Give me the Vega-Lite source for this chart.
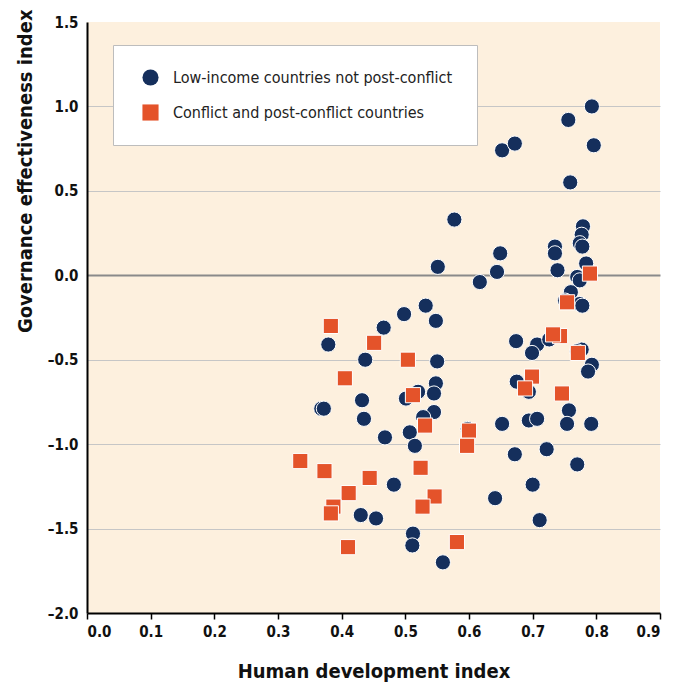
{
  "$schema": "https://vega.github.io/schema/vega-lite/v6.json",
  "width": 573,
  "height": 591,
  "autosize": "none",
  "padding": {"left": 87, "top": 22, "right": 15, "bottom": 77},
  "background": "white",
  "config": {
    "view": {"fill": "#fdf0de", "stroke": null},
    "font": "Liberation Sans Narrow, DejaVu Sans Condensed, sans-serif"
  },
  "datasets": {
    "pts": [
      {"hdi": 0.793, "ge": 1.00, "group": "Low-income countries not post-conflict"},
      {"hdi": 0.756, "ge": 0.92, "group": "Low-income countries not post-conflict"},
      {"hdi": 0.796, "ge": 0.77, "group": "Low-income countries not post-conflict"},
      {"hdi": 0.652, "ge": 0.74, "group": "Low-income countries not post-conflict"},
      {"hdi": 0.672, "ge": 0.78, "group": "Low-income countries not post-conflict"},
      {"hdi": 0.759, "ge": 0.55, "group": "Low-income countries not post-conflict"},
      {"hdi": 0.577, "ge": 0.33, "group": "Low-income countries not post-conflict"},
      {"hdi": 0.779, "ge": 0.29, "group": "Low-income countries not post-conflict"},
      {"hdi": 0.777, "ge": 0.24, "group": "Low-income countries not post-conflict"},
      {"hdi": 0.774, "ge": 0.19, "group": "Low-income countries not post-conflict"},
      {"hdi": 0.778, "ge": 0.17, "group": "Low-income countries not post-conflict"},
      {"hdi": 0.735, "ge": 0.17, "group": "Low-income countries not post-conflict"},
      {"hdi": 0.735, "ge": 0.13, "group": "Low-income countries not post-conflict"},
      {"hdi": 0.649, "ge": 0.13, "group": "Low-income countries not post-conflict"},
      {"hdi": 0.644, "ge": 0.02, "group": "Low-income countries not post-conflict"},
      {"hdi": 0.617, "ge": -0.04, "group": "Low-income countries not post-conflict"},
      {"hdi": 0.739, "ge": 0.03, "group": "Low-income countries not post-conflict"},
      {"hdi": 0.784, "ge": 0.07, "group": "Low-income countries not post-conflict"},
      {"hdi": 0.770, "ge": -0.01, "group": "Low-income countries not post-conflict"},
      {"hdi": 0.774, "ge": -0.03, "group": "Low-income countries not post-conflict"},
      {"hdi": 0.760, "ge": -0.10, "group": "Low-income countries not post-conflict"},
      {"hdi": 0.751, "ge": -0.15, "group": "Low-income countries not post-conflict"},
      {"hdi": 0.774, "ge": -0.17, "group": "Low-income countries not post-conflict"},
      {"hdi": 0.778, "ge": -0.18, "group": "Low-income countries not post-conflict"},
      {"hdi": 0.551, "ge": 0.05, "group": "Low-income countries not post-conflict"},
      {"hdi": 0.674, "ge": -0.39, "group": "Low-income countries not post-conflict"},
      {"hdi": 0.707, "ge": -0.41, "group": "Low-income countries not post-conflict"},
      {"hdi": 0.699, "ge": -0.46, "group": "Low-income countries not post-conflict"},
      {"hdi": 0.726, "ge": -0.38, "group": "Low-income countries not post-conflict"},
      {"hdi": 0.777, "ge": -0.44, "group": "Low-income countries not post-conflict"},
      {"hdi": 0.770, "ge": -0.45, "group": "Low-income countries not post-conflict"},
      {"hdi": 0.793, "ge": -0.53, "group": "Low-income countries not post-conflict"},
      {"hdi": 0.787, "ge": -0.57, "group": "Low-income countries not post-conflict"},
      {"hdi": 0.675, "ge": -0.63, "group": "Low-income countries not post-conflict"},
      {"hdi": 0.694, "ge": -0.69, "group": "Low-income countries not post-conflict"},
      {"hdi": 0.757, "ge": -0.80, "group": "Low-income countries not post-conflict"},
      {"hdi": 0.652, "ge": -0.88, "group": "Low-income countries not post-conflict"},
      {"hdi": 0.694, "ge": -0.86, "group": "Low-income countries not post-conflict"},
      {"hdi": 0.707, "ge": -0.85, "group": "Low-income countries not post-conflict"},
      {"hdi": 0.754, "ge": -0.88, "group": "Low-income countries not post-conflict"},
      {"hdi": 0.792, "ge": -0.88, "group": "Low-income countries not post-conflict"},
      {"hdi": 0.672, "ge": -1.06, "group": "Low-income countries not post-conflict"},
      {"hdi": 0.722, "ge": -1.03, "group": "Low-income countries not post-conflict"},
      {"hdi": 0.770, "ge": -1.12, "group": "Low-income countries not post-conflict"},
      {"hdi": 0.700, "ge": -1.24, "group": "Low-income countries not post-conflict"},
      {"hdi": 0.641, "ge": -1.32, "group": "Low-income countries not post-conflict"},
      {"hdi": 0.711, "ge": -1.45, "group": "Low-income countries not post-conflict"},
      {"hdi": 0.532, "ge": -0.18, "group": "Low-income countries not post-conflict"},
      {"hdi": 0.498, "ge": -0.23, "group": "Low-income countries not post-conflict"},
      {"hdi": 0.548, "ge": -0.27, "group": "Low-income countries not post-conflict"},
      {"hdi": 0.466, "ge": -0.31, "group": "Low-income countries not post-conflict"},
      {"hdi": 0.379, "ge": -0.41, "group": "Low-income countries not post-conflict"},
      {"hdi": 0.437, "ge": -0.50, "group": "Low-income countries not post-conflict"},
      {"hdi": 0.550, "ge": -0.51, "group": "Low-income countries not post-conflict"},
      {"hdi": 0.548, "ge": -0.64, "group": "Low-income countries not post-conflict"},
      {"hdi": 0.520, "ge": -0.69, "group": "Low-income countries not post-conflict"},
      {"hdi": 0.501, "ge": -0.73, "group": "Low-income countries not post-conflict"},
      {"hdi": 0.545, "ge": -0.70, "group": "Low-income countries not post-conflict"},
      {"hdi": 0.432, "ge": -0.74, "group": "Low-income countries not post-conflict"},
      {"hdi": 0.368, "ge": -0.79, "group": "Low-income countries not post-conflict"},
      {"hdi": 0.372, "ge": -0.79, "group": "Low-income countries not post-conflict"},
      {"hdi": 0.435, "ge": -0.85, "group": "Low-income countries not post-conflict"},
      {"hdi": 0.545, "ge": -0.81, "group": "Low-income countries not post-conflict"},
      {"hdi": 0.528, "ge": -0.84, "group": "Low-income countries not post-conflict"},
      {"hdi": 0.507, "ge": -0.93, "group": "Low-income countries not post-conflict"},
      {"hdi": 0.468, "ge": -0.96, "group": "Low-income countries not post-conflict"},
      {"hdi": 0.515, "ge": -1.01, "group": "Low-income countries not post-conflict"},
      {"hdi": 0.598, "ge": -0.91, "group": "Low-income countries not post-conflict"},
      {"hdi": 0.482, "ge": -1.24, "group": "Low-income countries not post-conflict"},
      {"hdi": 0.430, "ge": -1.42, "group": "Low-income countries not post-conflict"},
      {"hdi": 0.454, "ge": -1.44, "group": "Low-income countries not post-conflict"},
      {"hdi": 0.512, "ge": -1.53, "group": "Low-income countries not post-conflict"},
      {"hdi": 0.511, "ge": -1.60, "group": "Low-income countries not post-conflict"},
      {"hdi": 0.559, "ge": -1.70, "group": "Low-income countries not post-conflict"},
      {"hdi": 0.790, "ge": 0.01, "group": "Conflict and post-conflict countries"},
      {"hdi": 0.754, "ge": -0.16, "group": "Conflict and post-conflict countries"},
      {"hdi": 0.743, "ge": -0.36, "group": "Conflict and post-conflict countries"},
      {"hdi": 0.732, "ge": -0.35, "group": "Conflict and post-conflict countries"},
      {"hdi": 0.771, "ge": -0.46, "group": "Conflict and post-conflict countries"},
      {"hdi": 0.699, "ge": -0.60, "group": "Conflict and post-conflict countries"},
      {"hdi": 0.688, "ge": -0.67, "group": "Conflict and post-conflict countries"},
      {"hdi": 0.746, "ge": -0.70, "group": "Conflict and post-conflict countries"},
      {"hdi": 0.383, "ge": -0.30, "group": "Conflict and post-conflict countries"},
      {"hdi": 0.451, "ge": -0.40, "group": "Conflict and post-conflict countries"},
      {"hdi": 0.504, "ge": -0.50, "group": "Conflict and post-conflict countries"},
      {"hdi": 0.405, "ge": -0.61, "group": "Conflict and post-conflict countries"},
      {"hdi": 0.512, "ge": -0.71, "group": "Conflict and post-conflict countries"},
      {"hdi": 0.531, "ge": -0.89, "group": "Conflict and post-conflict countries"},
      {"hdi": 0.600, "ge": -0.92, "group": "Conflict and post-conflict countries"},
      {"hdi": 0.597, "ge": -1.01, "group": "Conflict and post-conflict countries"},
      {"hdi": 0.335, "ge": -1.10, "group": "Conflict and post-conflict countries"},
      {"hdi": 0.373, "ge": -1.16, "group": "Conflict and post-conflict countries"},
      {"hdi": 0.444, "ge": -1.20, "group": "Conflict and post-conflict countries"},
      {"hdi": 0.524, "ge": -1.14, "group": "Conflict and post-conflict countries"},
      {"hdi": 0.411, "ge": -1.29, "group": "Conflict and post-conflict countries"},
      {"hdi": 0.546, "ge": -1.31, "group": "Conflict and post-conflict countries"},
      {"hdi": 0.527, "ge": -1.37, "group": "Conflict and post-conflict countries"},
      {"hdi": 0.387, "ge": -1.37, "group": "Conflict and post-conflict countries"},
      {"hdi": 0.383, "ge": -1.41, "group": "Conflict and post-conflict countries"},
      {"hdi": 0.410, "ge": -1.61, "group": "Conflict and post-conflict countries"},
      {"hdi": 0.581, "ge": -1.58, "group": "Conflict and post-conflict countries"}
    ]
  },
  "data": {"name": "pts"},
  "mark": {"type": "point", "filled": true, "opacity": 1, "stroke": "white", "strokeWidth": 1, "size": 230},
  "encoding": {
    "x": {
      "field": "hdi", "type": "quantitative",
      "scale": {"domain": [0, 0.9], "nice": false, "zero": false},
      "axis": {
        "values": [0, 0.1, 0.2, 0.3, 0.4, 0.5, 0.6, 0.7, 0.8, 0.9],
        "format": ".1f",
        "grid": false,
        "domainColor": "black", "domainWidth": 2,
        "tickColor": "black", "tickWidth": 1.5, "tickSize": 6,
        "labelFontSize": 15, "labelFontWeight": "bold", "labelColor": "#111", "labelPadding": 5,
        "title": "Human development index",
        "titleFontSize": 20, "titleFontWeight": "bold", "titleColor": "#111", "titlePadding": 22
      }
    },
    "y": {
      "field": "ge", "type": "quantitative",
      "scale": {"domain": [-2, 1.5], "nice": false, "zero": false},
      "axis": {
        "values": [-2, -1.5, -1, -0.5, 0, 0.5, 1, 1.5],
        "labelExpr": "datum.value < 0 ? '\u2013' + format(-datum.value, '.1f') : format(datum.value, '.1f')",
        "grid": true,
        "gridColor": {"condition": {"test": "datum.value === 0", "value": "#8a8a8a"}, "value": "#c6c6c6"},
        "gridWidth": {"condition": {"test": "datum.value === 0", "value": 2}, "value": 1},
        "gridOpacity": {"condition": {"test": "datum.value === 1.5 || datum.value === -2", "value": 0}, "value": 1},
        "ticks": false,
        "domainColor": "black", "domainWidth": 2,
        "labelFontSize": 15, "labelFontWeight": "bold", "labelColor": "#111", "labelPadding": 9,
        "title": "Governance effectiveness index",
        "titleAnchor": "end", "titleY": -13,
        "titleFontSize": 20, "titleFontWeight": "bold", "titleColor": "#111", "titlePadding": 12
      }
    },
    "color": {
      "field": "group", "type": "nominal",
      "scale": {
        "domain": ["Low-income countries not post-conflict", "Conflict and post-conflict countries"],
        "range": ["#152f5c", "#e4532a"]
      },
      "legend": {
        "orient": "none", "legendX": 26, "legendY": 23,
        "title": null,
        "fillColor": "white", "strokeColor": "#bdbdbd",
        "padding": 24,
        "symbolSize": 260, "symbolStrokeWidth": 0, "symbolOffset": 5,
        "labelFontSize": 16, "labelColor": "#222", "labelOffset": 14, "labelLimit": 0,
        "rowPadding": 18
      }
    },
    "shape": {
      "field": "group", "type": "nominal",
      "scale": {
        "domain": ["Low-income countries not post-conflict", "Conflict and post-conflict countries"],
        "range": ["circle", "square"]
      }
    }
  }
}
